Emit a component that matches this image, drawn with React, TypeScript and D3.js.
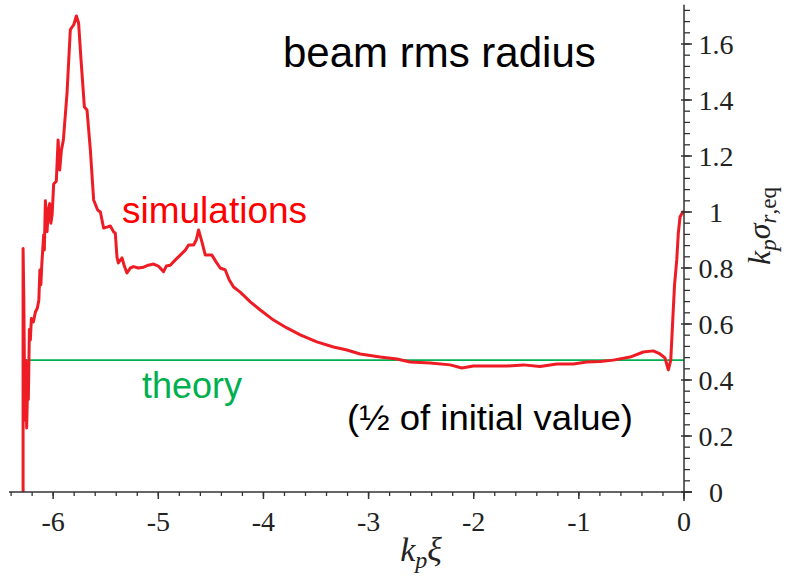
import React from "react";
import * as d3 from "d3";

// kp*xi positions and kp*sigma_r,eq values
const xiValues = [
  -6.286, -6.286, -6.279, -6.269, -6.26, -6.252, -6.242, -6.236, -6.226, -6.217,
  -6.207, -6.188, -6.169, -6.15, -6.136, -6.126, -6.117, -6.107, -6.09, -6.084,
  -6.074, -6.058, -6.046, -6.033, -6.022, -6.01, -5.995, -5.97, -5.953, -5.938,
  -5.922, -5.903, -5.868, -5.837, -5.827, -5.805, -5.779, -5.758, -5.735, -5.703,
  -5.678, -5.646, -5.615, -5.577, -5.551, -5.52, -5.488, -5.456, -5.425, -5.409,
  -5.393, -5.38, -5.345, -5.323, -5.298, -5.266, -5.235, -5.19, -5.14, -5.095,
  -5.045, -5.0, -4.95, -4.924, -4.886, -4.838, -4.791, -4.743, -4.712, -4.664,
  -4.639, -4.617, -4.585, -4.553, -4.49, -4.449, -4.411, -4.363, -4.325, -4.284,
  -4.221, -4.125, -4.03, -3.904, -3.777, -3.65, -3.492, -3.334, -3.206, -3.08,
  -2.89, -2.731, -2.605, -2.414, -2.224, -2.113, -2.003, -1.844, -1.685, -1.528,
  -1.369, -1.21, -1.052, -0.925, -0.798, -0.672, -0.513, -0.387, -0.292, -0.228,
  -0.181, -0.149, -0.126, -0.107, -0.09, -0.069, -0.054, -0.038, -0.012, 0.0,
];
const sigmaValues = [
  0.0, 0.87, 0.686, 0.257, 0.47, 0.229, 0.4, 0.33, 0.58, 0.543,
  0.62, 0.607, 0.643, 0.657, 0.686, 0.793, 0.74, 0.82, 0.918, 0.864,
  1.04, 0.93, 1.007, 1.03, 0.96, 0.99, 1.1, 1.11, 1.257, 1.15,
  1.22, 1.257, 1.425, 1.65, 1.657, 1.668, 1.7, 1.675, 1.543, 1.375,
  1.364, 1.221, 1.043, 1.007, 1.0, 0.943, 0.946, 0.95, 0.929, 0.925,
  0.839, 0.818, 0.836, 0.807, 0.782, 0.8, 0.805, 0.8, 0.803, 0.81,
  0.814, 0.807, 0.787, 0.807, 0.81, 0.829, 0.846, 0.864, 0.882, 0.882,
  0.9, 0.936, 0.893, 0.846, 0.846, 0.821, 0.8, 0.793, 0.757, 0.732,
  0.714, 0.679, 0.65, 0.614, 0.586, 0.561, 0.536, 0.518, 0.507, 0.493,
  0.482, 0.475, 0.464, 0.461, 0.454, 0.443, 0.45, 0.45, 0.45, 0.454,
  0.448, 0.457, 0.457, 0.464, 0.466, 0.471, 0.482, 0.5, 0.504, 0.493,
  0.479, 0.436, 0.471, 0.614, 0.739, 0.829, 0.925, 0.982, 1.0, 1.0,
];

const theoryValue = 0.471;
const theoryStart = -6.26;

const xTickValues = [-6, -5, -4, -3, -2, -1, 0];
const xTickLabels = ["-6", "-5", "-4", "-3", "-2", "-1", "0"];
const yTickValues = [0, 0.2, 0.4, 0.6, 0.8, 1, 1.2, 1.4, 1.6];
const yTickLabels = ["0", "0.2", "0.4", "0.6", "0.8", "1", "1.2", "1.4", "1.6"];

const W = 788;
const H = 580;

export default function App() {
  const x = d3.scaleLinear().domain([-6.42, 0]).range([9, 684]);
  const y = d3.scaleLinear().domain([0, 1.74]).range([492, 4.8]);

  const data = xiValues.map((v, i) => [v, sigmaValues[i]] as [number, number]);
  const line = d3
    .line<[number, number]>()
    .x((d) => x(d[0]))
    .y((d) => y(d[1]));

  const xMinor = d3.range(-32, 1).map((i) => i * 0.2).filter((v) => v >= -6.42);
  const yMinor = d3.range(0, 44).map((i) => i * 0.04).filter((v) => v <= 1.74);

  const axisColor = "#333";
  const serif = "'Liberation Serif', 'DejaVu Serif', serif";
  const sans = "'Liberation Sans', Arial, sans-serif";

  return (
    <svg
      width={W}
      height={H}
      style={{ position: "absolute", left: 0, top: 0, background: "#fff" }}
    >
      <rect x={0} y={0} width={W} height={H} fill="#fff" />
      {/* theory line */}
      <line
        x1={x(theoryStart)}
        x2={x(0)}
        y1={y(theoryValue)}
        y2={y(theoryValue)}
        stroke="#00b050"
        strokeWidth={1.8}
      />
      {/* simulation curve */}
      <path
        d={line(data) || ""}
        fill="none"
        stroke="#ee1c24"
        strokeWidth={3}
        strokeLinejoin="round"
      />
      {/* x axis */}
      <line x1={x(-6.42)} x2={x(0) + 8} y1={y(0)} y2={y(0)} stroke={axisColor} strokeWidth={1.5} />
      {xMinor.map((v, i) => (
        <line key={"xm" + i} x1={x(v)} x2={x(v)} y1={y(0)} y2={y(0) + 4} stroke={axisColor} strokeWidth={1.3} />
      ))}
      {xTickValues.map((v, i) => (
        <g key={"xt" + i}>
          <line x1={x(v)} x2={x(v)} y1={y(0)} y2={y(0) + 7} stroke={axisColor} strokeWidth={1.5} />
          <text x={x(v)} y={531} textAnchor="middle" fontFamily={serif} fontSize={28} fill="#222">
            {xTickLabels[i]}
          </text>
        </g>
      ))}
      {/* y axis */}
      <line x1={x(0)} x2={x(0)} y1={y(1.74)} y2={y(0) + 9} stroke={axisColor} strokeWidth={1.5} />
      {yMinor.map((v, i) => (
        <line key={"ym" + i} x1={x(0)} x2={x(0) + 6} y1={y(v)} y2={y(v)} stroke={axisColor} strokeWidth={1.3} />
      ))}
      {yTickValues.map((v, i) => (
        <g key={"yt" + i}>
          <line x1={x(0) - 3} x2={x(0) + 8} y1={y(v)} y2={y(v)} stroke={axisColor} strokeWidth={1.5} />
          <text x={716} y={y(v) + 10} textAnchor="middle" fontFamily={serif} fontSize={28} fill="#222">
            {yTickLabels[i]}
          </text>
        </g>
      ))}
      {/* axis titles */}
      <text x={421} y={561} textAnchor="middle" fontFamily={serif} fontSize={34} fill="#222">
        <tspan fontStyle="italic">k</tspan>
        <tspan fontStyle="italic" fontSize={24} dy={7}>p</tspan>
        <tspan fontStyle="italic" dy={-7}>ξ</tspan>
      </text>
      <text
        transform="translate(770,226) rotate(-90)"
        textAnchor="middle"
        fontFamily={serif}
        fontSize={32}
        fill="#222"
      >
        <tspan fontStyle="italic">k</tspan>
        <tspan fontStyle="italic" fontSize={23} dy={6}>p</tspan>
        <tspan fontStyle="italic" dy={-6}>σ</tspan>
        <tspan fontStyle="italic" fontSize={23} dy={6}>r</tspan>
        <tspan fontSize={23}>,eq</tspan>
      </text>
      {/* annotations */}
      <text x={283} y={67} fontFamily={sans} fontSize={42} fill="#000">beam rms radius</text>
      <text x={122} y={223} fontFamily={sans} fontSize={37} fill="#ff0000">simulations</text>
      <text x={142} y={398} fontFamily={sans} fontSize={36} fill="#00b050">theory</text>
      <text x={347} y={430} fontFamily={sans} fontSize={35} fill="#000" textLength={286} lengthAdjust="spacingAndGlyphs">
        (½ of initial value)
      </text>
    </svg>
  );
}
